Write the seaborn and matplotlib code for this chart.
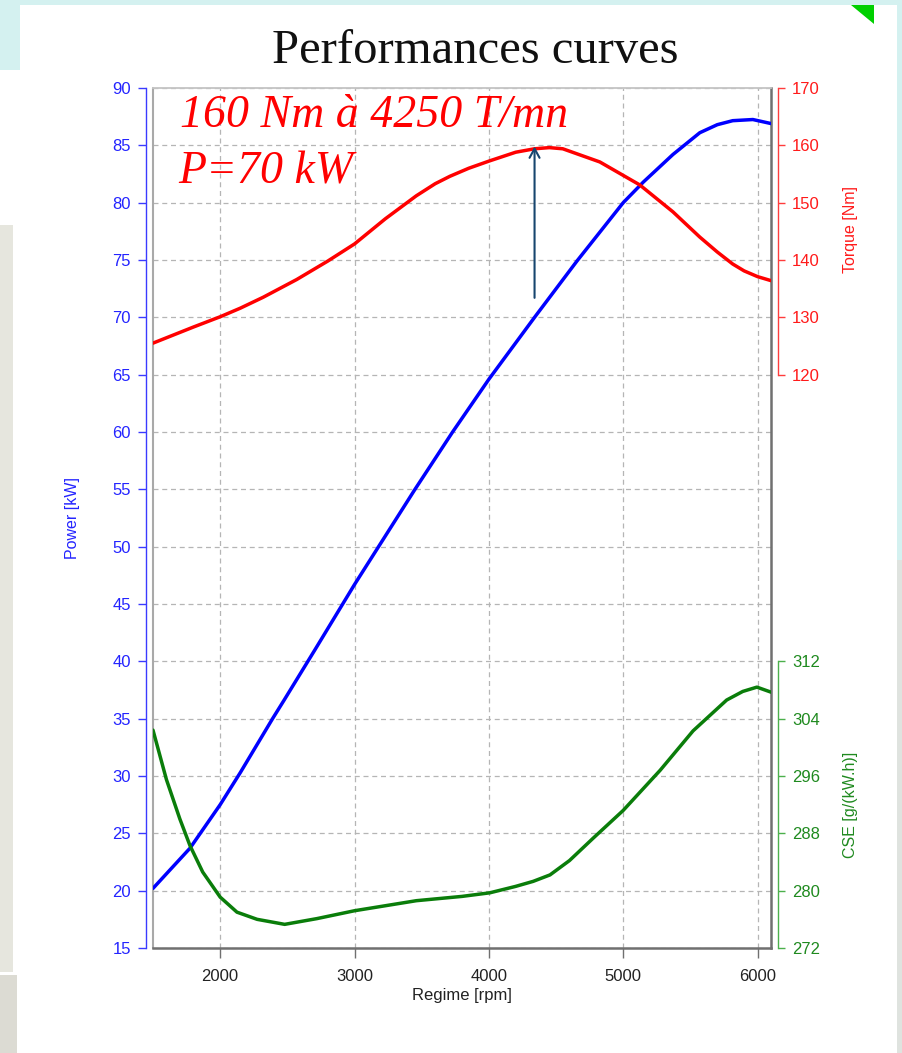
import matplotlib
matplotlib.use("Agg")
import matplotlib.pyplot as plt
import seaborn as sns
from matplotlib.patches import Rectangle, Polygon
from matplotlib.lines import Line2D

# ---------------- data ----------------
rpm_power = [1500, 1775, 2000, 2150, 2390, 2475, 2705, 3000, 3450, 3730,
             4000, 4340, 4655, 5000, 5150, 5370, 5570, 5700, 5815, 5965, 6100]
power_kw = [20.2, 23.7, 27.5, 30.3, 35.0, 36.6, 41.0, 46.7, 55.0, 60.0,
            64.6, 70.0, 74.9, 80.0, 81.8, 84.2, 86.1, 86.8, 87.15, 87.25, 86.9]

rpm_torque = [1500, 1800, 2000, 2150, 2320, 2570, 2800, 3000, 3230, 3460,
              3600, 3710, 3850, 4007, 4200, 4340, 4450, 4550, 4826, 5123,
              5370, 5570, 5700, 5815, 5900, 6000, 6100]
torque_nm = [125.5, 128.3, 130.1, 131.6, 133.5, 136.6, 139.8, 142.8, 147.2, 151.2,
             153.3, 154.6, 156.0, 157.3, 158.8, 159.4, 159.6, 159.4, 157.1, 153.1,
             148.4, 144.0, 141.4, 139.3, 138.1, 137.1, 136.4]

rpm_cse = [1500, 1600, 1700, 1775, 1870, 2000, 2125, 2275, 2480, 2720,
           3000, 3460, 3800, 4007, 4200, 4330, 4455, 4600, 4775, 5000, 5275,
           5520, 5770, 5890, 5995, 6100]
cse_g_kwh = [302.4, 295.5, 290.0, 286.3, 282.6, 279.1, 277.0, 276.0, 275.3, 276.1,
             277.2, 278.6, 279.2, 279.7, 280.6, 281.3, 282.2, 284.2, 287.3, 291.2, 296.8,
             302.3, 306.6, 307.8, 308.4, 307.7]

rpm_ticks = [2000, 3000, 4000, 5000, 6000]
power_ticks = [15, 20, 25, 30, 35, 40, 45, 50, 55, 60, 65, 70, 75, 80, 85, 90]
torque_ticks = [120, 130, 140, 150, 160, 170]
cse_ticks = [272, 280, 288, 296, 304, 312]

title_text = "Performances curves"
note_line1 = "160 Nm à 4250 T/mn"
note_line2 = "P=70 kW"
arrow_rpm = 4340
arrow_from_kw = 71.7
arrow_to_kw = 84.9

# ---------------- style ----------------
sns.set_theme(style="white")
plt.rcParams["font.family"] = ["Liberation Sans", "DejaVu Sans"]

W, H = 903, 1053
fig = plt.figure(figsize=(W / 100, H / 100), dpi=100)
fig.patch.set_facecolor("#d4f1f0")


def px_rect(x0, y0, x1, y1, color, z=-10):
    fig.add_artist(Rectangle((x0 / W, 1 - y1 / H), (x1 - x0) / W, (y1 - y0) / H,
                             transform=fig.transFigure, facecolor=color,
                             edgecolor="none", zorder=z))


# slide background pieces
px_rect(20, 5, 897, H, "white")
px_rect(0, 70, 20, H, "white")
px_rect(0, 225, 13, 972, "#e6e6de", z=-9)
px_rect(0, 975, 17, H, "#dcdbd3", z=-9)
px_rect(897, 560, W, H, "#dfe3df", z=-9)
fig.add_artist(Polygon([(851 / W, 1 - 5 / H), (874 / W, 1 - 5 / H), (874 / W, 1 - 24 / H)],
                       closed=True, transform=fig.transFigure, facecolor="#00d000",
                       edgecolor="none", zorder=-8))

fig.text(475 / W, 1 - 63 / H, title_text, ha="center", va="baseline",
         fontsize=35, color="#111111", family=["Liberation Serif", "DejaVu Serif"])

# ---------------- axes ----------------
ax = fig.add_axes([153 / W, 1 - 948 / H, (771 - 153) / W, (948 - 88) / H])
ax.set_facecolor("white")

BLUE = "#0000ff"
RED = "#ff0000"
GREEN = "#0a7d0a"

sns.lineplot(x=rpm_power, y=power_kw, ax=ax, color=BLUE, lw=2.5,
             sort=False, estimator=None, zorder=5)

ax_t = ax.twinx()
sns.lineplot(x=rpm_torque, y=torque_nm, ax=ax_t, color=RED, lw=2.5,
             sort=False, estimator=None, zorder=5)

ax_c = ax.twinx()
sns.lineplot(x=rpm_cse, y=cse_g_kwh, ax=ax_c, color=GREEN, lw=2.5,
             sort=False, estimator=None, zorder=5)

ax.set_xlim(1500, 6100)
ax.set_ylim(15, 90)
ax_t.set_ylim(20, 170)
ax_c.set_ylim(272, 392)

ax.set_xticks(rpm_ticks)
ax.set_xticklabels([str(v) for v in rpm_ticks])
ax.set_yticks(power_ticks)
ax.set_yticklabels([str(v) for v in power_ticks])
ax_t.set_yticks(torque_ticks)
ax_t.set_yticklabels([str(v) for v in torque_ticks])
ax_c.set_yticks(cse_ticks)
ax_c.set_yticklabels([str(v) for v in cse_ticks])

ax.grid(True, color="#b5b5b5", linestyle=(0, (4, 3)), lw=0.9)
ax_t.grid(False)
ax_c.grid(False)

# main frame
ax.spines["left"].set_position(("outward", 5))
ax.spines["left"].set_color("#3a3aff")
ax.spines["left"].set_linewidth(1.0)
ax.spines["top"].set_color("#c4c4c4")
ax.spines["top"].set_linewidth(1.3)
ax.spines["right"].set_color("#707070")
ax.spines["right"].set_linewidth(1.8)
ax.spines["bottom"].set_color("#707070")
ax.spines["bottom"].set_linewidth(1.8)
ax.add_line(Line2D([0, 0], [0, 1], transform=ax.transAxes, color="#a9a9a9",
                   lw=1.5, clip_on=False))

for a in (ax_t, ax_c):
    for s in ("left", "top", "bottom"):
        a.spines[s].set_visible(False)
    a.set_facecolor("none")
    a.spines["right"].set_position(("outward", 5))
    a.spines["right"].set_linewidth(1.0)

ax_t.spines["right"].set_bounds(120, 170)
ax_t.spines["right"].set_color("#ff3c3c")
ax_c.spines["right"].set_bounds(272, 312)
ax_c.spines["right"].set_color("#4cb04c")

ax.tick_params(axis="y", left=True, right=False, direction="out", length=6, width=1,
               colors="#3a3aff", labelcolor="#2424ff", labelsize=12, pad=5)
ax.tick_params(axis="x", bottom=True, top=False, direction="out", length=7, width=1,
               colors="#707070", labelcolor="#222222", labelsize=12, pad=8)
ax_t.tick_params(axis="y", right=True, left=False, direction="out", length=5, width=1,
                 colors="#ff3c3c", labelcolor="#ff1a1a", labelsize=12, pad=5)
ax_c.tick_params(axis="y", right=True, left=False, direction="out", length=5, width=1,
                 colors="#4cb04c", labelcolor="#1f8a1f", labelsize=12, pad=5)

ax.set_xlabel("Regime [rpm]", fontsize=12, color="#222222", labelpad=3)
ax.set_ylabel("Power [kW]", fontsize=11.5, color="#2424ff")
ax.yaxis.set_label_coords(-0.118, 0.5)
ax_t.set_ylabel("Torque [Nm]", fontsize=11.5, color="#ff1a1a")
ax_t.yaxis.set_label_coords(1.116, 0.835)
ax_c.set_ylabel("CSE [g/(kW.h)]", fontsize=11.5, color="#1f8a1f")
ax_c.yaxis.set_label_coords(1.116, 0.167)

# annotation text + arrow
ax.text((180 - 153) / 618, (948 - 127) / 860, note_line1, transform=ax.transAxes,
        ha="left", va="baseline", fontsize=33, style="italic", color=RED,
        family=["Liberation Serif", "DejaVu Serif"], zorder=6)
ax.text((178 - 153) / 618, (948 - 183) / 860, note_line2, transform=ax.transAxes,
        ha="left", va="baseline", fontsize=33, style="italic", color=RED,
        family=["Liberation Serif", "DejaVu Serif"], zorder=6)
ax_c.annotate("", xy=(arrow_rpm, 272 + 1.6 * (arrow_to_kw - 15)),
              xytext=(arrow_rpm, 272 + 1.6 * (arrow_from_kw - 15)),
              arrowprops=dict(arrowstyle="->,head_length=0.55,head_width=0.3",
                              color="#17456e", lw=1.5, shrinkA=0, shrinkB=0),
              zorder=7)

fig.savefig("out.png", dpi=100, facecolor=fig.get_facecolor())
